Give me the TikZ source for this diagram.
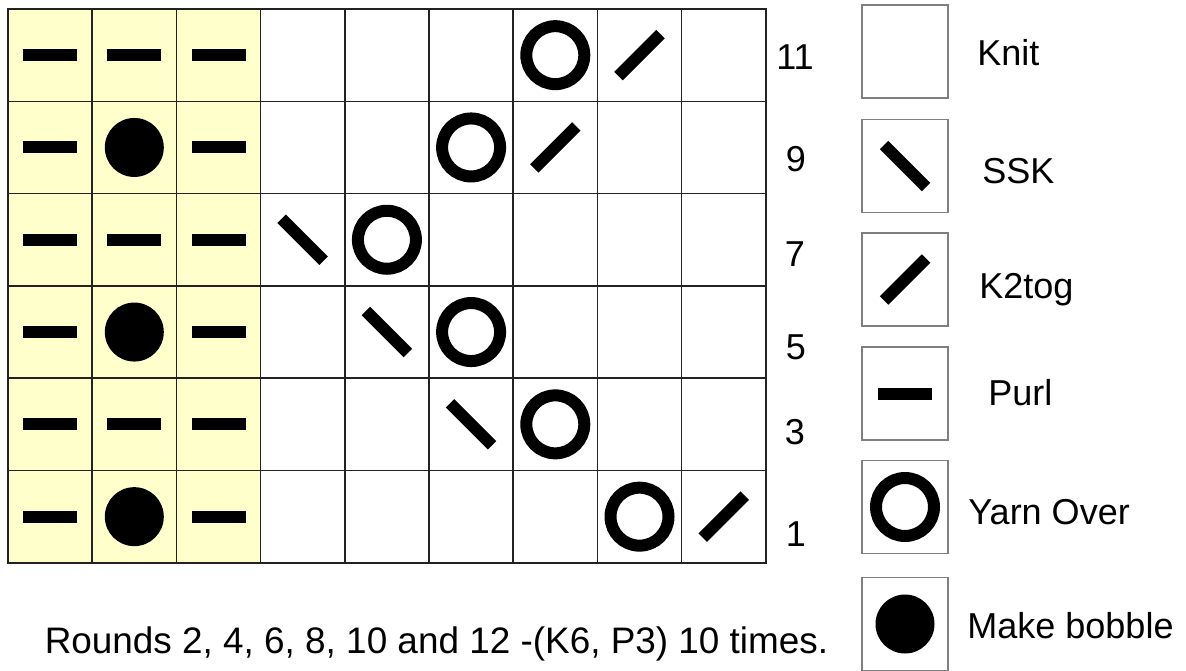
\documentclass[tikz,border=0pt]{standalone}
\usepackage{fontspec}
\setmainfont{Liberation Sans}
\usetikzlibrary{positioning}
\definecolor{chartYellow}{HTML}{FFFFCC}
\definecolor{gridGray}{HTML}{222222}
\definecolor{keyGray}{HTML}{7F7F7F}

\begin{document}
\begin{tikzpicture}[x=0.02cm, y=-0.02cm, font=\fontsize{20.5}{24}\selectfont,
  cell/.style={draw=gridGray, line width=0.8pt, minimum width=1.684cm, minimum height=1.846cm, inner sep=0pt, outer sep=0pt},
  purlcell/.style={cell, fill=chartYellow},
  keybox/.style={draw=keyGray, line width=1pt, minimum width=1.72cm, minimum height=1.86cm, inner sep=0pt},
  keytxt/.style={anchor=base west, inner sep=0pt},
  rownum/.style={inner sep=0pt},
  sym/.style={line width=0.24cm},
  purl/.pic={\fill (-27,-6) rectangle (27,6);},
  yo/.pic={\draw[sym] (0,0) circle[radius=0.58cm];},
  bobble/.pic={\fill (0,0) circle[radius=0.59cm];},
  ssk/.pic={\draw[sym] (-21,-21) -- (21,21);},
  ktog/.pic={\draw[sym] (-21,21) -- (21,-21);}]
\useasboundingbox (0,0) rectangle (1186,670);
% chart cells, row 0 is round 11
\foreach \r in {0,...,5}{
  \foreach \c in {0,1,2} \node[purlcell] (c\r\c) at ({50.1+84.2*\c},{55.15+92.3*\r}) {};
  \foreach \c in {3,...,8} \node[cell] (c\r\c) at ({50.1+84.2*\c},{55.15+92.3*\r}) {};
}
\foreach \r in {0,2,4} \foreach \c in {0,1,2} \pic at (c\r\c) {purl};
\foreach \r in {1,3,5}{
  \pic at (c\r0) {purl}; \pic at (c\r1) {bobble}; \pic at (c\r2) {purl};
}
\foreach \p in {06,15,24,35,46,57} \pic at (c\p) {yo};
\foreach \p in {07,16,58} \pic at (c\p) {ktog};
\foreach \p in {23,34,45} \pic at (c\p) {ssk};
% round numbers
\node[rownum] (n11) at (795,57) {11};
\node[rownum] (n9) at (796,159) {9};
\node[rownum] (n7) at (795,254) {7};
\node[rownum] (n5) at (796,347) {5};
\node[rownum] (n3) at (795,432) {3};
\node[rownum] (n1) at (796,534) {1};
% key
\node[keybox] (kknit) at (905,51.5) {};
\node[keybox] (kssk) at (905,166) {};
\node[keybox] (kktog) at (905,279.5) {};
\node[keybox] (kpurl) at (905,393.5) {};
\node[keybox] (kyo) at (905,507) {};
\node[keybox] (kbob) at (905,624) {};
\pic at (kssk) {ssk}; \pic at (kktog) {ktog}; \pic at (kpurl) {purl};
\pic at (kyo) {yo}; \pic at (kbob) {bobble};
\node[keytxt] (tknit) at (977,65) {Knit};
\node[keytxt] (tssk) at (982,183) {SSK};
\node[keytxt] (tktog) at (979,298) {K2tog};
\node[keytxt] (tpurl) at (988,405) {Purl};
\node[keytxt] (tyo) at (968,524) {Yarn Over};
\node[keytxt] (tbob) at (967,638) {Make bobble};
\node[anchor=base, inner sep=0pt, font=\fontsize{21}{25}\selectfont] (note) at (436.5,653) {Rounds 2, 4, 6, 8, 10 and 12 -(K6, P3) 10 times.};
\end{tikzpicture}
\end{document}
